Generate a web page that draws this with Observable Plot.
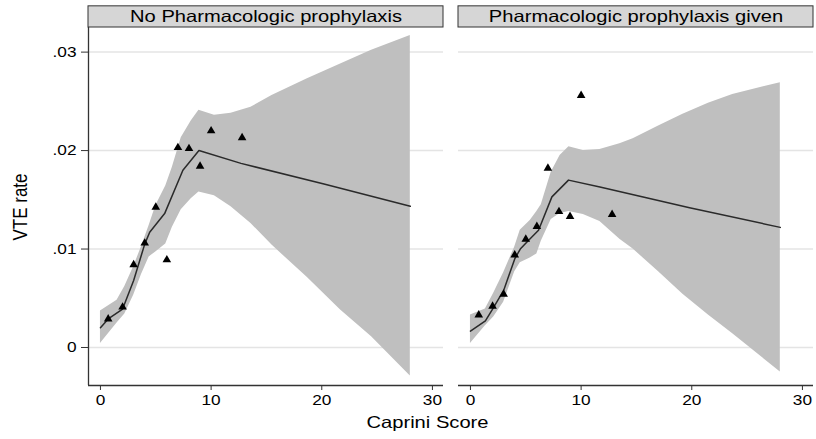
<!DOCTYPE html>
<html>
<head>
<meta charset="utf-8">
<script src="https://cdn.jsdelivr.net/npm/d3@7"></script>
<script src="https://cdn.jsdelivr.net/npm/@observablehq/plot@0.6"></script>
<style>
  html, body { margin: 0; padding: 0; background: #fff; overflow: hidden; }
  #chart { width: 816px; height: 439px; }
</style>
</head>
<body>
<div id="chart"></div>
<script>
// ---- categories / labels ----
const panels = ["No Pharmacologic prophylaxis", "Pharmacologic prophylaxis given"];
const xTitle = "Caprini Score";
const yTitle = "VTE rate";
const xTicks = [0, 10, 20, 30];
const yTicks = [0, 0.01, 0.02, 0.03];
const yTickLabels = ["0", ".01", ".02", ".03"];
const xDomain = [-1.08, 31.0];
const yDomain = [-0.00386, 0.0325];
const headerTop = 0.03465;

// ---- observed rates (triangles) ----
const noProphPtX = [0.7, 2, 3, 4, 5, 6, 7, 8, 9, 10, 12.8];
const noProphPtY = [0.0029, 0.0041, 0.0084, 0.0106, 0.01425, 0.0089, 0.0203, 0.0202, 0.0184, 0.0220, 0.0213];
const prophPtX = [0.75, 2, 3, 4, 5, 6, 7, 8, 9, 10, 12.8];
const prophPtY = [0.0033, 0.0042, 0.0054, 0.0094, 0.0110, 0.0123, 0.0182, 0.0138, 0.0133, 0.0256, 0.0135];

// ---- fitted curve ----
const noProphFitX = [0, 0.7, 2, 3, 4, 4.45, 5.8, 7.45, 8.9, 12.7, 20.2, 28];
const noProphFitY = [0.0020, 0.0029, 0.0039, 0.0068, 0.0105, 0.0117, 0.0136, 0.0180, 0.0200, 0.0187, 0.0166, 0.01435];
const prophFitX = [0, 1.35, 2, 3, 4, 4.5, 5.26, 6.15, 7.36, 8.86, 11.7, 19.8, 28];
const prophFitY = [0.00166, 0.0027, 0.0039, 0.0058, 0.0090, 0.0100, 0.0109, 0.0119, 0.0153, 0.0170, 0.0163, 0.0142, 0.0122];

// ---- confidence band ----
const noProphBandX  = [0, 1.5, 2.2, 3.0, 3.7, 4.4, 5.0, 5.9, 6.5, 7.3, 8.2, 8.9, 10.3, 11.8, 13.6, 15.5, 18.7, 21.7, 24.5, 28];
const noProphBandHi = [0.0037, 0.0048, 0.0062, 0.0082, 0.0102, 0.0124, 0.0144, 0.0164, 0.0183, 0.0213, 0.0230, 0.0241, 0.0236, 0.0238, 0.0244, 0.0256, 0.0273, 0.0288, 0.0302, 0.0317];
const noProphBandLo = [0.0004, 0.0025, 0.0034, 0.0053, 0.0074, 0.0092, 0.0097, 0.0105, 0.0122, 0.0140, 0.0151, 0.0158, 0.0154, 0.0143, 0.0126, 0.0104, 0.0071, 0.0038, 0.0011, -0.0029];
const prophBandX  = [0, 1.35, 2.1, 3.0, 4.0, 4.5, 5.4, 6.0, 6.4, 7.3, 8.1, 8.9, 10.2, 11.7, 13.5, 14.7, 17.0, 19.2, 21.5, 23.7, 28];
const prophBandHi = [0.0033, 0.0039, 0.0055, 0.0076, 0.0102, 0.0119, 0.0129, 0.0138, 0.0145, 0.0178, 0.0195, 0.0204, 0.0200, 0.0201, 0.0207, 0.0212, 0.0225, 0.0237, 0.0248, 0.0257, 0.0269];
const prophBandLo = [0.0004, 0.0022, 0.0031, 0.0046, 0.0077, 0.0086, 0.0091, 0.0095, 0.0108, 0.0130, 0.0136, 0.0138, 0.0135, 0.0128, 0.0110, 0.0100, 0.0077, 0.0054, 0.0033, 0.0014, -0.0025];

// ---- tables built from the arrays ----
const points = [
  ...noProphPtX.map((x, i) => ({panel: panels[0], x, y: noProphPtY[i]})),
  ...prophPtX.map((x, i) => ({panel: panels[1], x, y: prophPtY[i]}))
];
const fit = [
  ...noProphFitX.map((x, i) => ({panel: panels[0], x, y: noProphFitY[i]})),
  ...prophFitX.map((x, i) => ({panel: panels[1], x, y: prophFitY[i]}))
];
const band = [
  ...noProphBandX.map((x, i) => ({panel: panels[0], x, lo: noProphBandLo[i], hi: noProphBandHi[i]})),
  ...prophBandX.map((x, i) => ({panel: panels[1], x, lo: prophBandLo[i], hi: prophBandHi[i]}))
];
const headers = panels.map(p => ({panel: p}));

const plot = Plot.plot({
  width: 816,
  height: 439,
  marginLeft: 87,
  marginRight: 2,
  marginTop: 27,
  marginBottom: 54,
  style: {fontFamily: "'Liberation Sans', Arial, sans-serif", fontSize: "15px", color: "#000", background: "#fff"},
  fx: {domain: panels, axis: null, paddingInner: 0.0404, paddingOuter: 0},
  x: {domain: xDomain, axis: null},
  y: {domain: yDomain, axis: null},
  marks: [
    Plot.gridY(yTicks, {stroke: "#e4e4e4", strokeOpacity: 1, strokeWidth: 1.5}),
    Plot.areaY(band, {fx: "panel", x: "x", y1: "lo", y2: "hi", fill: "#bfbfbf"}),
    Plot.line(fit, {fx: "panel", x: "x", y: "y", stroke: "#2a2a2a", strokeWidth: 1.5}),
    Plot.dot(points, {fx: "panel", x: "x", y: "y", symbol: "triangle", fill: "#000", stroke: "none", r: 3.2}),
    Plot.ruleY([yDomain[0]], {stroke: "#333", strokeWidth: 1.3}),
    Plot.ruleX([{panel: panels[0], x: xDomain[0]}], {fx: "panel", x: "x", stroke: "#333", strokeWidth: 1.3}),
    Plot.axisX({ticks: xTicks, tickSize: 5, tickPadding: 4, label: null, stroke: "#333", fontSize: 15, tickFormat: d => String(d)}),
    Plot.axisY({ticks: yTicks, tickSize: 7, tickPadding: 5, label: null, stroke: "#333", fontSize: 15,
      tickFormat: d => yTickLabels[yTicks.indexOf(d)]}),
    Plot.rect(headers, {fx: "panel", x1: () => xDomain[0], x2: () => xDomain[1],
      y1: () => yDomain[1], y2: () => headerTop, fill: "#d6d6d6", stroke: "#333", strokeWidth: 1}),
    Plot.text(headers, {fx: "panel", x: () => (xDomain[0] + xDomain[1]) / 2,
      y: () => (yDomain[1] + headerTop) / 2, text: "panel", fontSize: 16.5, fill: "#000"})
  ]
});

document.getElementById("chart").appendChild(plot);

const svg = d3.select(plot);
svg.append("text")
  .attr("x", 427.5).attr("y", 428.3)
  .attr("text-anchor", "middle")
  .style("font-size", "16.5px")
  .attr("fill", "#000")
  .text(xTitle);
svg.append("text")
  .attr("transform", "translate(20,207) rotate(-90) scale(1,1.2)")
  .attr("text-anchor", "middle")
  .attr("dy", "0.35em")
  .style("font-size", "17px")
  .attr("fill", "#000")
  .text(yTitle);

// horizontal stretch of the horizontal texts to match the reference's wide lettering
plot.querySelectorAll("text").forEach(t => {
  if ((t.getAttribute("transform") || "").includes("rotate")) return;
  const len = t.getComputedTextLength();
  if (len > 0) {
    const f = len < 40 ? 1.15 : 1.22;
    t.setAttribute("textLength", (len * f).toFixed(1));
    t.setAttribute("lengthAdjust", "spacingAndGlyphs");
  }
});
</script>
</body>
</html>
